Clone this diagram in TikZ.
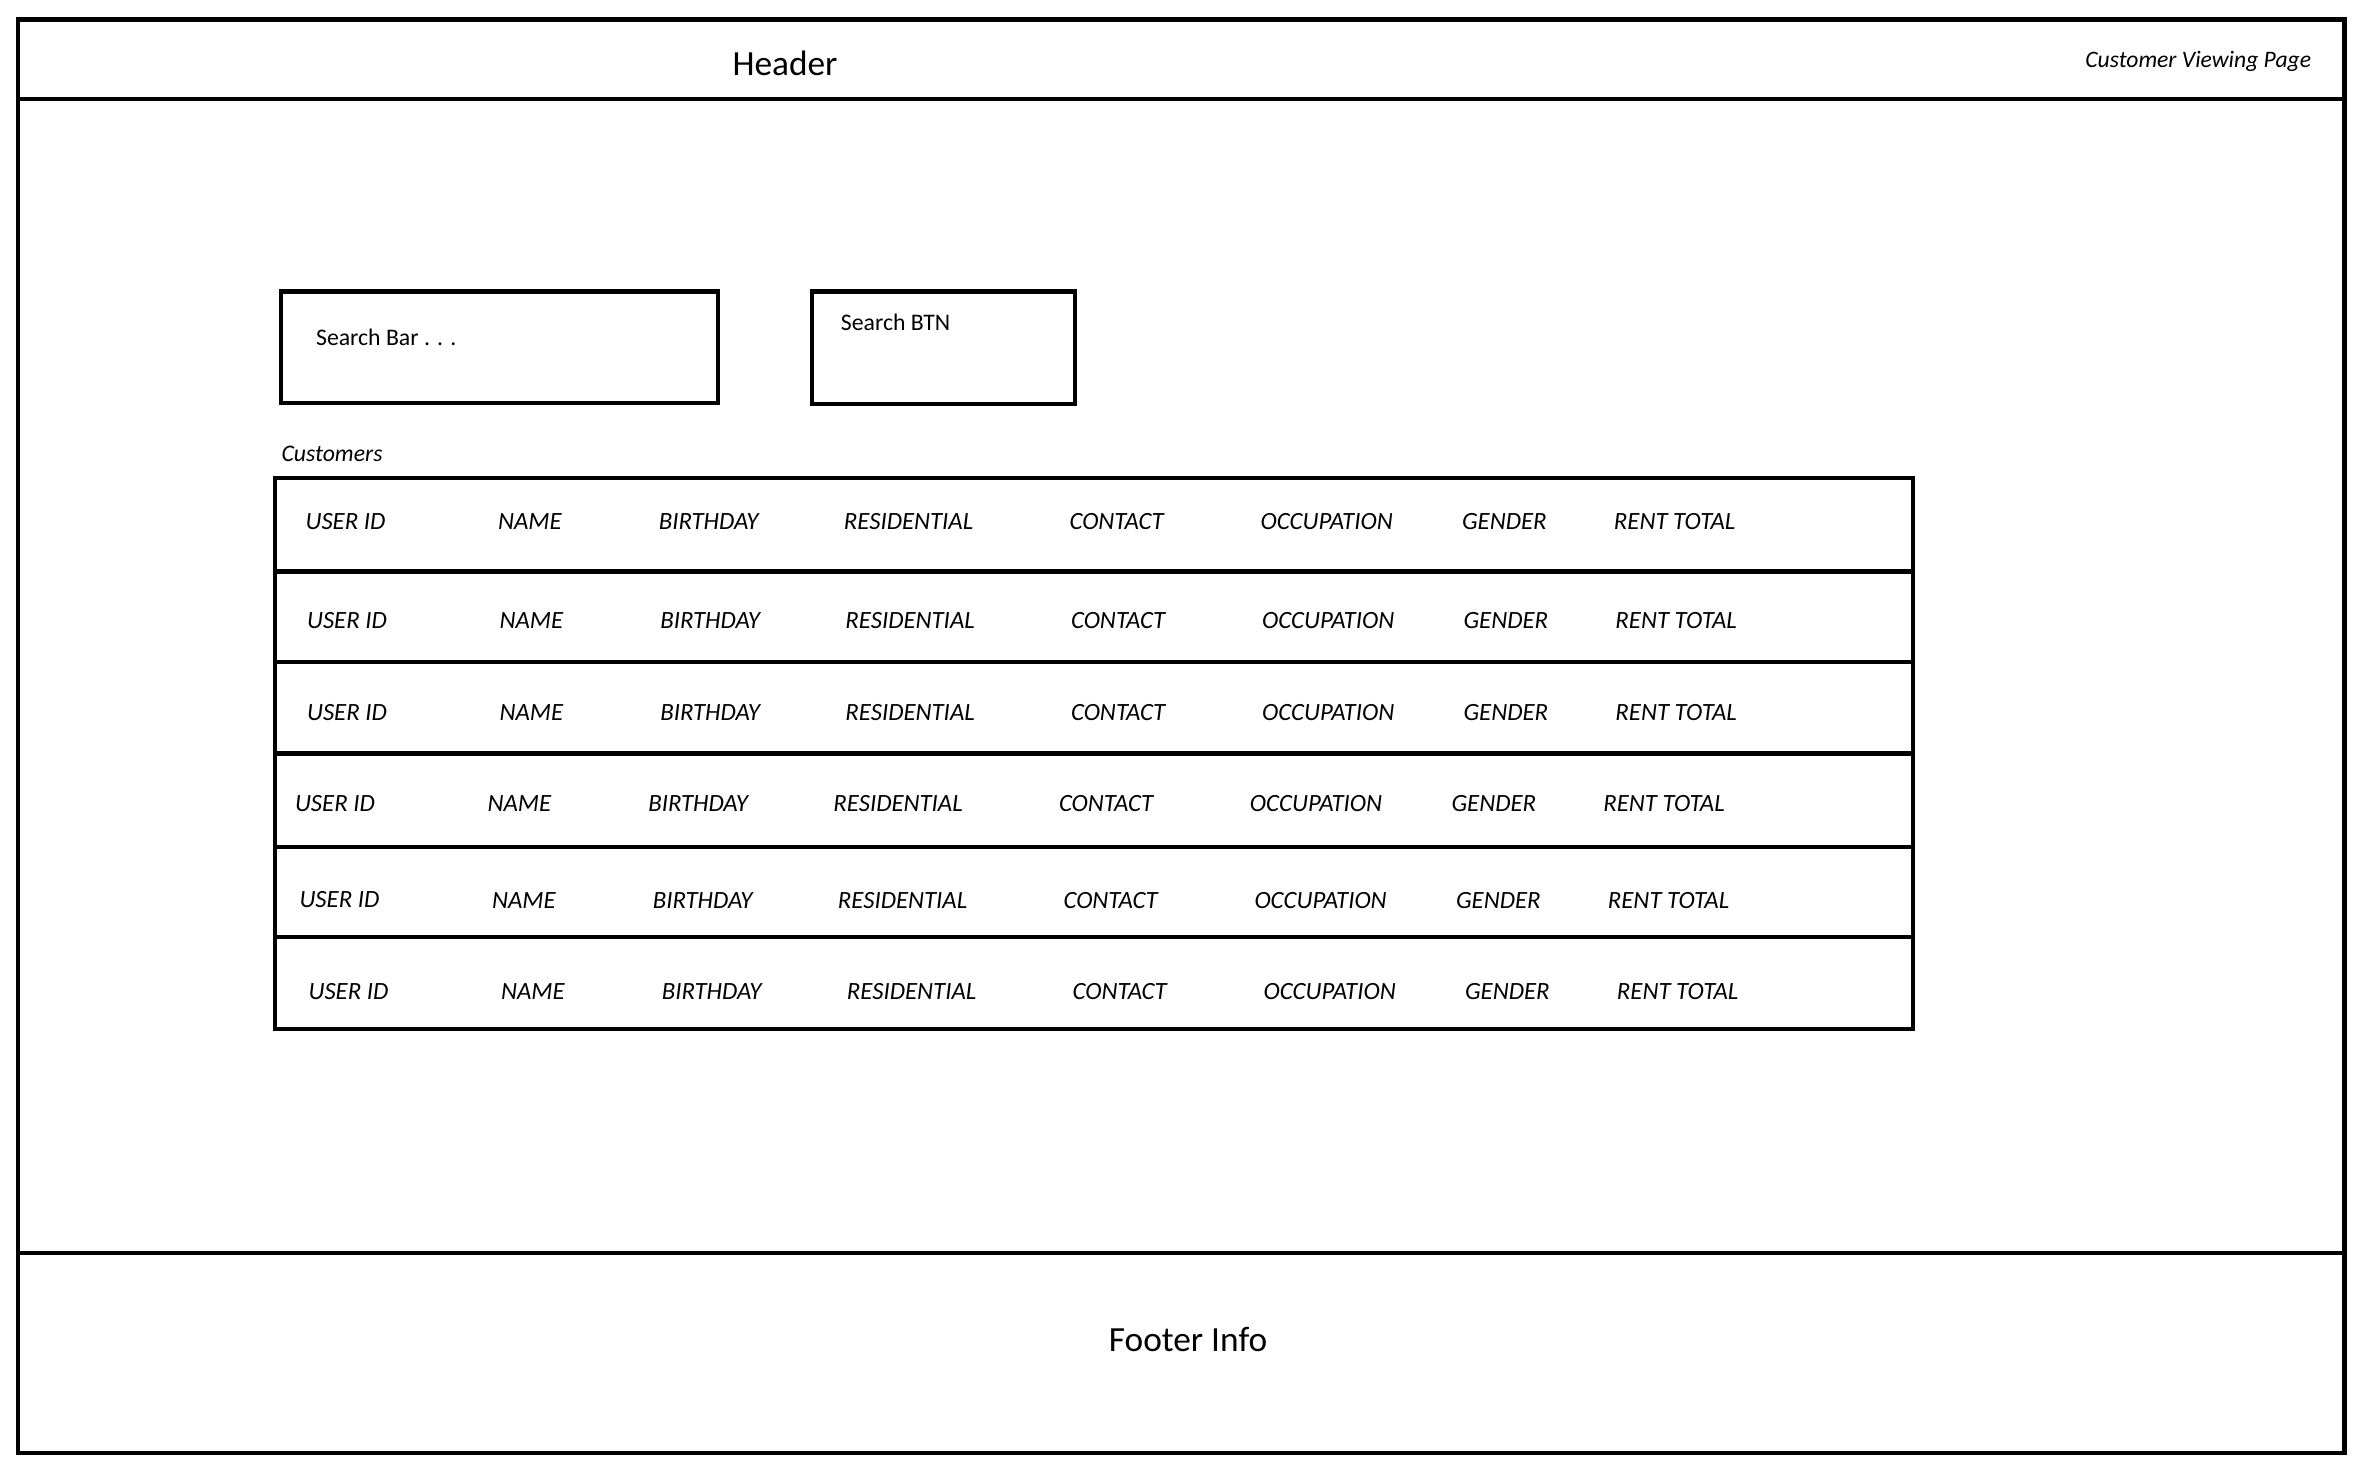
\documentclass[tikz,border=0pt]{standalone}
\usepackage{fontspec}
\setmainfont{Carlito}
\begin{document}
\begin{tikzpicture}[x=1pt,y=-1pt,
  frame/.style={line width=2.8pt, draw=black},
  lbl/.style={inner sep=0pt, anchor=west, font=\fontsize{16.5}{19}\selectfont\itshape},
  big/.style={inner sep=0pt, font=\fontsize{23.5}{28}\selectfont},
  plain/.style={inner sep=0pt, anchor=west, font=\fontsize{15.8}{19}\selectfont}]
  \useasboundingbox (0,0) rectangle (1568,971);
  \fill[white] (0,0) rectangle (1568,971);

  % page frame, header and footer bands
  \draw[frame] (12,13) rectangle (1559,966);
  \draw[frame] (12,66) -- (1559,66);
  \draw[frame] (12,833) -- (1559,833);
  \node[big] (header) at (522,42) {Header};
  \node[lbl, anchor=east, font=\fontsize{15.7}{19}\selectfont\itshape] (pagetitle) at (1537,40.5) {Customer Viewing Page};
  \node[big] (footer) at (790,890.5) {Footer Info};

  % search controls
  \node[frame, rectangle, minimum width=290.5pt, minimum height=74pt, anchor=north west] (searchbar) at (185.5,192.5) {};
  \node[plain] (searchbartxt) at (210,224.5) {Search Bar . . .};
  \node[frame, rectangle, minimum width=175pt, minimum height=75pt, anchor=north west] (searchbtn) at (538.5,192.5) {};
  \node[plain] (searchbtntxt) at (559,214.5) {Search BTN};

  % customer table
  \node[lbl, font=\fontsize{15.8}{19}\selectfont\itshape] (custlabel) at (187,301.5) {Customers};
  \draw[frame] (183,318) rectangle (1272,684);
  \foreach \yy in {380,440,501,563,623}
    \draw[frame] (183,\yy) -- (1272,\yy);

  \foreach \r/\yy/\dx in {1/346.5/0, 2/412.5/1, 3/473.5/1, 4/534.5/-7, 5/598.5/-4, 6/659.5/2} {
    \foreach \c/\xx/\t in {1/203/USER ID, 2/331/NAME, 3/438/BIRTHDAY, 4/561/RESIDENTIAL,
                           5/711/CONTACT, 6/838/OCCUPATION, 7/972/GENDER, 8/1073/RENT TOTAL}
      \node[lbl] (cell-\r-\c) at (\xx+\dx,\yy) {\t};
  }
\end{tikzpicture}
\end{document}
